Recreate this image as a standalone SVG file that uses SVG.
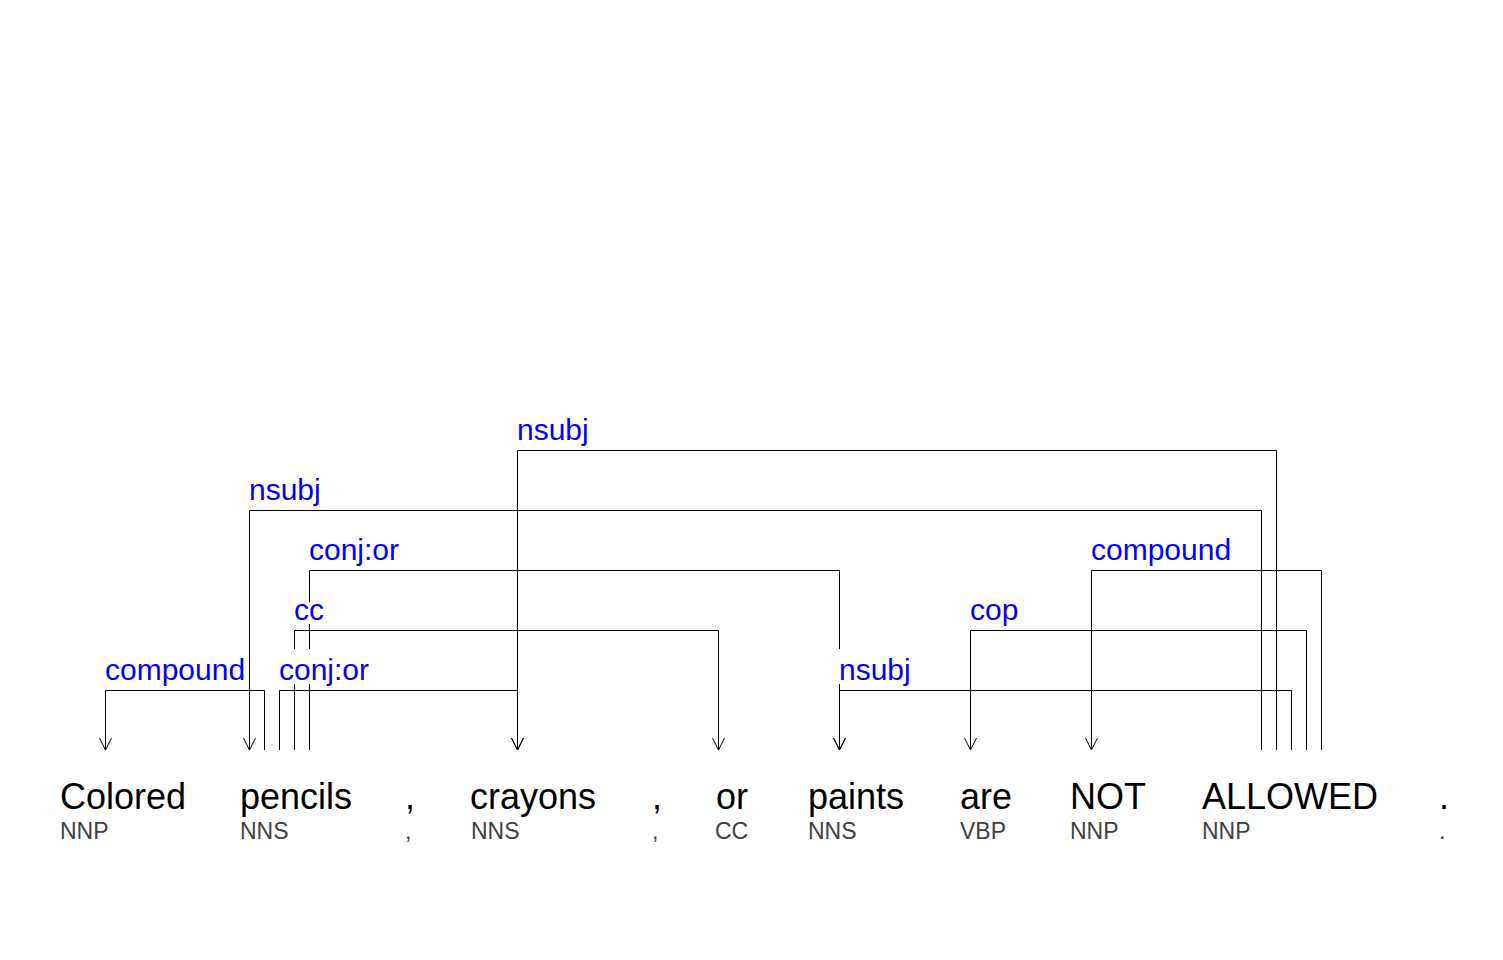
<svg xmlns="http://www.w3.org/2000/svg" width="1503" height="960" viewBox="0 0 1503 960">
<style>
.word{font-family:"Liberation Sans",Arial,sans-serif;font-size:36px;fill:#000}
.pos{font-family:"Liberation Sans",Arial,sans-serif;font-size:23px;fill:#404040}
.lbl{font-family:"Liberation Sans",Arial,sans-serif;font-size:30px;fill:#0000ff}
.edge{fill:none;stroke:#000;stroke-width:1;marker-end:url(#ah)}
.bg{fill:#fff}
</style>
<defs>
<marker id="ah" markerUnits="userSpaceOnUse" viewBox="-13 -7 14 14" markerWidth="14" markerHeight="14" refX="0" refY="0" orient="auto">
<path d="M-12,-6 L0,0 L-12,6" fill="none" stroke="#000" stroke-width="1"/>
</marker>
</defs>
<rect width="1503" height="960" fill="#fff"/>

<g id="connectors">
<path id="e-compound-1" class="edge" d="M264.5,750 V690.5 H105.5 V750"/>
<path id="e-conjor-1" class="edge" d="M279.5,750 V690.5 H517.5 V750"/>
<path id="e-cc" class="edge" d="M294.5,750 V630.5 H718.5 V750"/>
<path id="e-conjor-2" class="edge" d="M309.5,750 V570.5 H839.5 V750"/>
<path id="e-nsubj-1" class="edge" d="M1261.5,750 V510.5 H249.5 V750"/>
<path id="e-nsubj-2" class="edge" d="M1276.5,750 V450.5 H517.5 V750"/>
<path id="e-nsubj-3" class="edge" d="M1291.5,750 V690.5 H839.5 V750"/>
<path id="e-cop" class="edge" d="M1306.5,750 V630.5 H970.5 V750"/>
<path id="e-compound-2" class="edge" d="M1321.5,750 V570.5 H1091.5 V750"/>
</g>

<g id="labels">
<rect class="bg" x="105" y="649" width="140" height="35"/>
<text class="lbl" x="105" y="680">compound</text>
<rect class="bg" x="279" y="649" width="90" height="35"/>
<text class="lbl" x="279" y="680">conj:or</text>
<rect class="bg" x="294" y="602" width="31" height="22"/>
<text class="lbl" x="294" y="620">cc</text>
<rect class="bg" x="309" y="529" width="90" height="35"/>
<text class="lbl" x="309" y="560">conj:or</text>
<rect class="bg" x="249" y="469" width="72" height="35"/>
<text class="lbl" x="249" y="500">nsubj</text>
<rect class="bg" x="517" y="409" width="72" height="35"/>
<text class="lbl" x="517" y="440">nsubj</text>
<rect class="bg" x="839" y="649" width="72" height="35"/>
<text class="lbl" x="839" y="680">nsubj</text>
<text class="lbl" x="970" y="620">cop</text>
<text class="lbl" x="1091" y="560">compound</text>
</g>

<g id="w1"><text class="word" x="60" y="809">Colored</text><text class="pos" x="60" y="839">NNP</text></g>
<g id="w2"><text class="word" x="240" y="809">pencils</text><text class="pos" x="240" y="839">NNS</text></g>
<g id="w3"><text class="word" x="405" y="809">,</text><text class="pos" x="405" y="839">,</text></g>
<g id="w4"><text class="word" x="470" y="809">crayons</text><text class="pos" x="471" y="839">NNS</text></g>
<g id="w5"><text class="word" x="652" y="809">,</text><text class="pos" x="652" y="839">,</text></g>
<g id="w6"><text class="word" x="716" y="809">or</text><text class="pos" x="715" y="839">CC</text></g>
<g id="w7"><text class="word" x="808" y="809">paints</text><text class="pos" x="808" y="839">NNS</text></g>
<g id="w8"><text class="word" x="960" y="809">are</text><text class="pos" x="960" y="839">VBP</text></g>
<g id="w9"><text class="word" x="1070" y="809">NOT</text><text class="pos" x="1070" y="839">NNP</text></g>
<g id="w10"><text class="word" x="1202" y="809">ALLOWED</text><text class="pos" x="1202" y="839">NNP</text></g>
<g id="w11"><text class="word" x="1439" y="809">.</text><text class="pos" x="1439" y="839">.</text></g>
</svg>
